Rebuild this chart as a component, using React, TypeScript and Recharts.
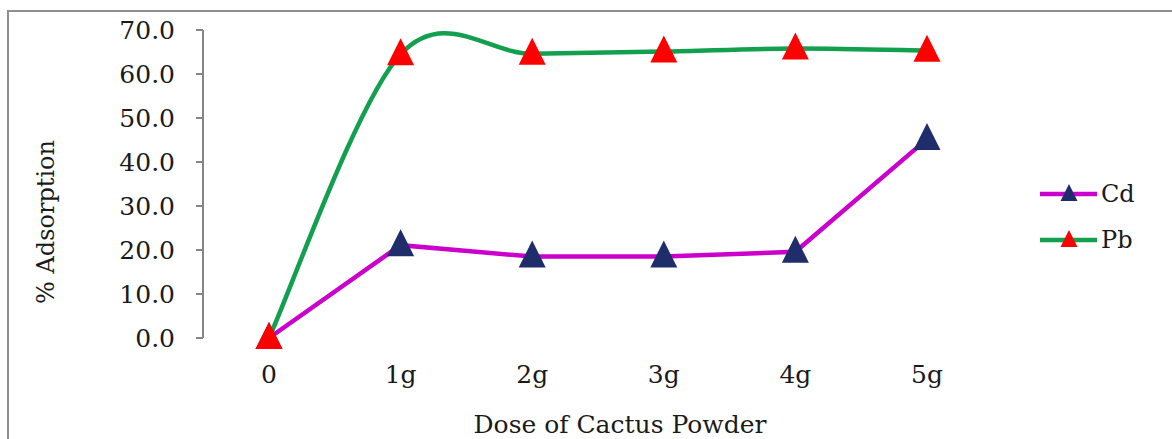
import React from 'react';
import { LineChart, Line, XAxis, YAxis } from 'recharts';

// Categories and measured adsorption (%) per cactus powder dose
const doses = ['0', '1g', '2g', '3g', '4g', '5g'];
const cdValues = [0, 21.1, 18.5, 18.5, 19.6, 45.2];
const pbValues = [0, 64.5, 64.6, 65.1, 65.8, 65.3];
const yTicks = [0, 10, 20, 30, 40, 50, 60, 70];
const frameTicks = [0, 1, 2, 3, 4, 5, 6];

const series = [
  { key: 'Cd', name: 'Cd', line: '#CC00CC', marker: '#1F2D6B', smooth: false },
  { key: 'Pb', name: 'Pb', line: '#12A04F', marker: '#FF0000', smooth: true },
];

const data = doses.map((d, i) => ({ dose: d, Cd: cdValues[i], Pb: pbValues[i] }));

const FONT = '"DejaVu Serif", serif';
const AXIS = '#868686';

// Spreadsheet-style smoothed line (Catmull-Rom as cubic Bezier segments)
const smoothCurve = (context: any) => {
  let xs: number[] = [];
  let ys: number[] = [];
  return {
    areaStart() {},
    areaEnd() {},
    lineStart() {
      xs = [];
      ys = [];
    },
    point(x: number, y: number) {
      xs.push(+x);
      ys.push(+y);
    },
    lineEnd() {
      const n = xs.length;
      if (!n) return;
      context.moveTo(xs[0], ys[0]);
      for (let i = 0; i < n - 1; i++) {
        const a = Math.max(i - 1, 0);
        const b = Math.min(i + 2, n - 1);
        const c1x = xs[i] + (xs[i + 1] - xs[a]) / 6;
        const c1y = ys[i] + (ys[i + 1] - ys[a]) / 6;
        const c2x = xs[i + 1] - (xs[b] - xs[i]) / 6;
        const c2y = ys[i + 1] - (ys[b] - ys[i]) / 6;
        context.bezierCurveTo(c1x, c1y, c2x, c2y, xs[i + 1], ys[i + 1]);
      }
    },
  };
};

const triangle = (cx: number, cy: number, w: number, up: number, down: number) =>
  `M${cx},${cy - up} L${cx + w / 2},${cy + down} L${cx - w / 2},${cy + down} Z`;

const makeDot = (fill: string) => (props: any) => {
  const { cx, cy, index } = props;
  if (cx == null || cy == null) return <g key={`d-${index}`} />;
  return <path key={`d-${index}`} d={triangle(cx, cy, 27, 16, 11)} fill={fill} />;
};

export default function App() {
  return (
    <div
      style={{
        position: 'fixed',
        left: 0,
        top: 0,
        width: 1172,
        height: 439,
        background: '#fff',
        overflow: 'hidden',
      }}
    >
      <div
        style={{
          position: 'absolute',
          left: 7,
          top: 10,
          width: 1200,
          height: 500,
          border: '2px solid #8f8f8f',
        }}
      />
      <div style={{ position: 'absolute', left: 0, top: 0 }}>
        <LineChart
          width={1172}
          height={439}
          data={data}
          margin={{ top: 30, right: 179, bottom: 71, left: 143 }}
        >
          <XAxis
            xAxisId="frame"
            type="number"
            domain={[0, 6]}
            ticks={frameTicks}
            height={0}
            tick={false}
            tickSize={8}
            stroke={AXIS}
            strokeWidth={2}
            allowDataOverflow
          />
          <XAxis
            dataKey="dose"
            height={30}
            padding={{ left: 66, right: 66 }}
            axisLine={false}
            tickLine={false}
            tickSize={0}
            tickMargin={27}
            tick={{ fill: '#1a1a1a', fontFamily: FONT, fontSize: 25 }}
          />
          <YAxis
            width={60}
            domain={[0, 70]}
            ticks={yTicks}
            interval={0}
            tickFormatter={(v: number) => v.toFixed(1)}
            stroke={AXIS}
            strokeWidth={2}
            tickSize={7}
            tickMargin={21}
            tick={{ fill: '#1a1a1a', fontFamily: FONT, fontSize: 25 }}
          />
          {series.map((s) => (
            <Line
              key={s.key}
              dataKey={s.key}
              name={s.name}
              type={s.smooth ? (smoothCurve as any) : 'linear'}
              stroke={s.line}
              strokeWidth={4.5}
              dot={makeDot(s.marker)}
              activeDot={false}
              isAnimationActive={false}
            />
          ))}
        </LineChart>
      </div>

      {/* Axis titles */}
      <svg
        width={1172}
        height={439}
        style={{ position: 'absolute', left: 0, top: 0, pointerEvents: 'none' }}
      >
        <text
          x={0}
          y={0}
          transform="translate(54 222) rotate(-90)"
          textAnchor="middle"
          fontFamily={FONT}
          fontSize={24}
          fill="#1a1a1a"
        >
          % Adsorption
        </text>
        <text
          x={620}
          y={433}
          textAnchor="middle"
          fontFamily={FONT}
          fontSize={25}
          fill="#1a1a1a"
        >
          Dose of Cactus Powder
        </text>

        {/* Legend */}
        {series.map((s, i) => {
          const y = 194 + i * 46;
          return (
            <g key={s.key}>
              <line x1={1040} x2={1097} y1={y} y2={y} stroke={s.line} strokeWidth={4.5} />
              <path d={triangle(1069, y, 17, 10, 7)} fill={s.marker} />
              <text
                x={1101}
                y={y + 8}
                fontFamily={FONT}
                fontSize={24}
                fill="#1a1a1a"
              >
                {s.name}
              </text>
            </g>
          );
        })}
      </svg>
    </div>
  );
}
